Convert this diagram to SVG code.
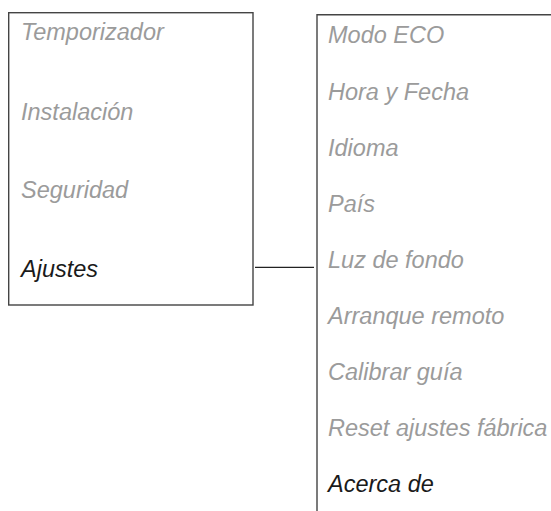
<svg xmlns="http://www.w3.org/2000/svg" width="551" height="511" viewBox="0 0 551 511">
<style>
.box{fill:none;stroke:#444;stroke-width:1.4}
.t{font-family:"Liberation Sans",Arial,sans-serif;font-style:italic;font-size:23.5px;fill:#9b9b9b}
.k{fill:#1a1a1a}
.c{stroke:#222;stroke-width:1.2;fill:none}
</style>
<rect width="551" height="511" fill="#fff"/>
<g id="menu-main">
<rect class="box" x="8.7" y="12.7" width="244.3" height="292.3"/>
<text class="t" x="21" y="40">Temporizador</text>
<text class="t" x="21" y="119.5">Instalación</text>
<text class="t" x="21" y="198">Seguridad</text>
<text class="t k" x="21" y="277">Ajustes</text>
</g>
<g id="menu-ajustes">
<path class="box" d="M553 14.7 H317 V513"/>
<text class="t" x="328" y="42.5">Modo ECO</text>
<text class="t" x="328" y="99.5">Hora y Fecha</text>
<text class="t" x="328" y="155.5">Idioma</text>
<text class="t" x="328" y="212">País</text>
<text class="t" x="328" y="268">Luz de fondo</text>
<text class="t" x="328" y="323.5">Arranque remoto</text>
<text class="t" x="328" y="379.5">Calibrar guía</text>
<text class="t" x="328" y="436">Reset ajustes fábrica</text>
<text class="t k" x="328" y="492">Acerca de</text>
</g>
<g id="connectors">
<line class="c" x1="255" y1="267.3" x2="314" y2="267.3"/>
</g>
</svg>
